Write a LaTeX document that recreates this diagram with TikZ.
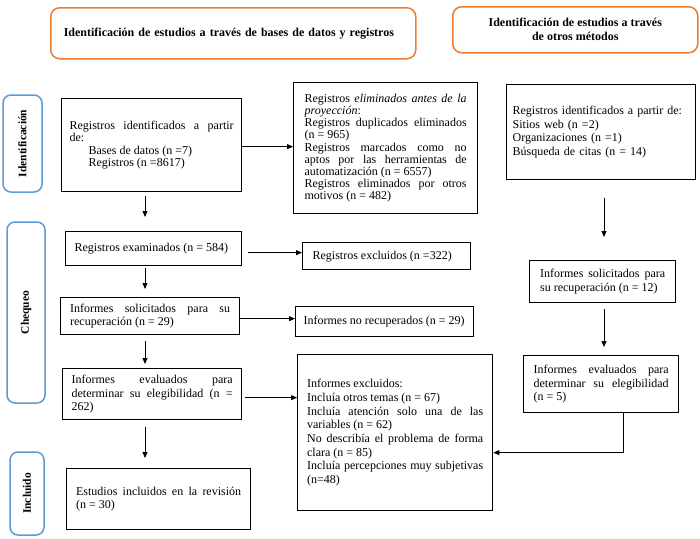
\documentclass[tikz,border=0pt]{standalone}
\usepackage{fontspec}
\setmainfont{Liberation Serif}
\usetikzlibrary{arrows.meta,calc}
\definecolor{hdorange}{RGB}{237,125,49}
\definecolor{phblue}{RGB}{91,155,213}
\setlength{\parindent}{0pt}
\tolerance=10000
\hbadness=10000
\hyphenpenalty=10000
\exhyphenpenalty=10000
\begin{document}
\begin{tikzpicture}[x=1pt,y=-1pt,
    box/.style={draw,line width=1.3pt,anchor=north west,inner sep=0pt,
        align=justify,font=\fontsize{12}{13.7}\selectfont},
    header/.style={draw=hdorange,line width=1.5pt,rounded corners=9pt,
        anchor=north west,inner sep=0pt,font=\fontsize{12}{14}\selectfont\bfseries},
    phase/.style={draw=phblue,line width=1.5pt,rounded corners=8pt,rotate=90,
        inner sep=0pt,font=\fontsize{11.5}{13}\selectfont\bfseries},
    arr/.style={-{Triangle[length=6pt,width=5pt]},line width=0.8pt}]
    \useasboundingbox (0,0) rectangle (700,538);
    % headers
    \node[header,minimum width=365,minimum height=51,text width=339pt,align=left] (hdbase) at (50,7)
        {Identificación de estudios a través de bases de datos y registros};
    \node[header,minimum width=245,minimum height=46,align=center] (hdotros) at (452,6)
        {Identificación de estudios a través\\de otros métodos};
    % phases
    \node[phase,minimum width=97,minimum height=39] (phid) at (22.5,143.5) {Identificación};
    \node[phase,minimum width=181,minimum height=38] (phch) at (26,312.5) {Chequeo};
    \node[phase,minimum width=83,minimum height=34] (phin) at (27,493.5) {Incluido};
    % left column
    \node[box,minimum width=180,minimum height=93,text width=164pt,
        font=\fontsize{12}{12.5}\selectfont] (ident) at (61,98)
        {Registros identificados a partir\linebreak de:\\\hspace*{19pt}Bases de datos (n =7)\\\hspace*{19pt}Registros (n =8617)};
    \node[box,minimum width=176,minimum height=34,text width=158pt] (exam) at (65,231)
        {Registros examinados (n = 584)};
    \node[box,minimum width=179,minimum height=37,text width=160pt] (infsol) at (60,297)
        {Informes solicitados para su\linebreak recuperación (n = 29)};
    \node[box,minimum width=179,minimum height=51,text width=161pt] (evala) at (62,368)
        {Informes evaluados para\linebreak determinar su elegibilidad (n =\linebreak 262)};
    \node[box,minimum width=184,minimum height=61,text width=165pt] (incl) at (66,468)
        {Estudios incluidos en la revisión\linebreak (n = 30)\par\vspace*{6pt}};
    % middle column
    \node[box,minimum width=184,minimum height=131,text width=162pt,
        font=\fontsize{12}{12.2}\selectfont] (remov) at (293,82)
        {Registros \emph{eliminados antes de la proyección}:\\Registros duplicados eliminados (n = 965)\\Registros marcados como no\linebreak aptos por las herramientas de\linebreak automatización (n = 6557)\\Registros eliminados por otros\linebreak motivos (n = 482)};
    \node[box,minimum width=168,minimum height=27,text width=148pt] (excl) at (302,242)
        {Registros excluidos (n =322)};
    \node[box,minimum width=178,minimum height=30,text width=162pt] (norec) at (295,306)
        {Informes no recuperados (n = 29)};
    \node[box,minimum width=195,minimum height=156,text width=176pt] (exclb) at (297,354)
        {Informes excluidos:\\Incluía otros temas (n = 67)\\Incluía atención solo una de las\linebreak variables (n = 62)\\No describía el problema de forma\linebreak clara (n = 85)\\Incluía percepciones muy subjetivas\linebreak (n=48)};
    % right column
    \node[box,minimum width=189,minimum height=95,text width=177pt,align=left] (idotr) at (506,84)
        {Registros identificados a partir de:\\Sitios web (n =2)\\Organizaciones (n =1)\\Búsqueda de citas (n = 14)};
    \node[box,minimum width=146,minimum height=42,text width=125pt] (infsolb) at (529,260)
        {Informes solicitados para\linebreak su recuperación (n = 12)};
    \node[box,minimum width=155,minimum height=57,text width=135pt] (evalb) at (523,355)
        {Informes evaluados para\linebreak determinar su elegibilidad\linebreak (n = 5)};
    % arrows
    \coordinate (colL) at (145,0);
    \coordinate (colR) at (604,0);
    \draw[arr,shorten <=4pt,shorten >=14pt] (ident.south -| colL) -- (exam.north -| colL);
    \draw[arr,shorten <=2pt,shorten >=8pt] (exam.south -| colL) -- (infsol.north -| colL);
    \draw[arr,shorten <=6pt,shorten >=4pt] (infsol.south -| colL) -- (evala.north -| colL);
    \draw[arr,shorten <=7pt,shorten >=10pt] (evala.south -| colL) -- (incl.north -| colL);
    \draw[arr] ($(ident.east)+(0,1.5)$) -- ($(ident.east -| remov.west)+(0,1.5)$);
    \draw[arr,shorten <=6pt] ($(exam.east)+(0,4)$) -- ($(exam.east -| excl.west)+(0,4)$);
    \draw[arr] ($(infsol.east)+(0,2.5)$) -- ($(infsol.east -| norec.west)+(0,2.5)$);
    \draw[arr,shorten <=3pt] ($(evala.east)+(0,3.5)$) -- ($(evala.east -| exclb.west)+(0,3.5)$);
    \draw[arr,shorten <=18pt,shorten >=23pt] (idotr.south -| colR) -- (infsolb.north -| colR);
    \draw[arr,shorten <=6pt,shorten >=8pt] (infsolb.south -| colR) -- (evalb.north -| colR);
    \draw[arr] ($(evalb.south)+(22,0)$) |- ($(exclb.east)+(0,20)$);
\end{tikzpicture}
\end{document}
